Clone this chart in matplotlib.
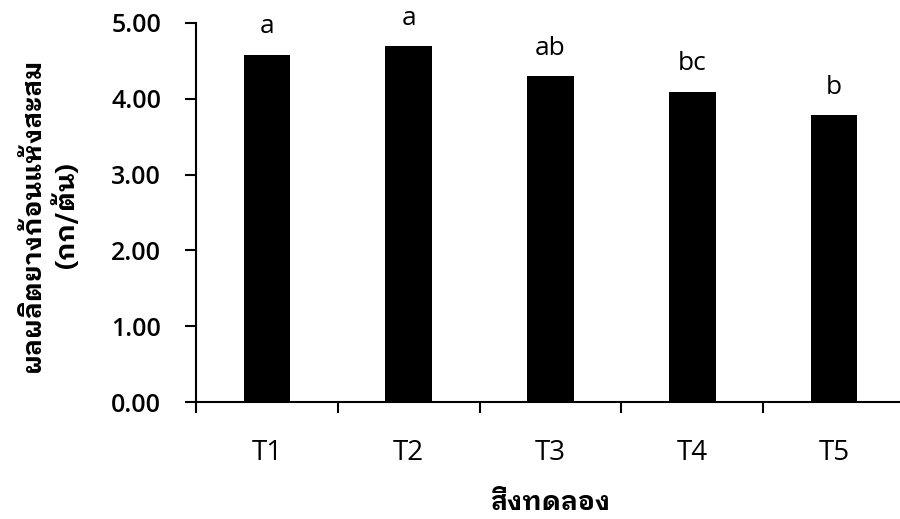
import matplotlib
matplotlib.use("Agg")
import matplotlib.pyplot as plt

categories = ["T1", "T2", "T3", "T4", "T5"]
values = [4.58, 4.69, 4.30, 4.09, 3.78]
letters = ["a", "a", "ab", "bc", "b"]
y_ticks = [0, 1, 2, 3, 4, 5]
y_title = "ผลผลิตยางก้อนแห้งสะสม\n(กก/ต้น)"
x_title = "สิ่งทดลอง"

plt.rcParams['font.family'] = ["Open Sans", "DejaVu Sans"]
thai_fam = ["IBM Plex Sans Thai Looped", "Noto Sans Thai Looped", "DejaVu Sans"]

fig = plt.figure(figsize=(9, 5.19), dpi=100)
ax = fig.add_axes([196/900, 1-402/519, 709/900, 379/519])

x = list(range(len(categories)))
ax.bar(x, values, width=0.33, color="black")
for xi, v, l in zip(x, values, letters):
    ax.annotate(l, (xi, v), xytext=(0, 15.5), textcoords="offset points",
                ha="center", va="baseline", fontsize=19)

ax.set_xlim(-0.5, 4.5)
ax.set_ylim(0, 5)
ax.set_yticks(y_ticks)
ax.set_yticklabels([f"{t:.2f}" for t in y_ticks], fontsize=18, fontweight="semibold")
ax.set_xticks(x)
ax.set_xticklabels(categories, fontsize=20)
ax.set_xticks([i - 0.5 for i in range(len(categories) + 1)], minor=True)
ax.tick_params(axis="x", which="major", length=0, pad=27)
ax.tick_params(axis="x", which="minor", length=8, width=1.5, direction="out")
ax.tick_params(axis="y", length=8, width=1.5, direction="out", pad=17)
for s in ["top", "right"]:
    ax.spines[s].set_visible(False)
for s in ["left", "bottom"]:
    ax.spines[s].set_linewidth(1.5)

fig.text(50/900, 1-215/519, y_title, rotation=90, ha="center", va="center",
         fontsize=19, fontweight="bold", multialignment="center", linespacing=1.25,
         family=thai_fam)
fig.text(550/900, 1-503/519, x_title, ha="center", va="center",
         fontsize=19, fontweight="bold", family=thai_fam)

fig.savefig("out.png", dpi=100)
